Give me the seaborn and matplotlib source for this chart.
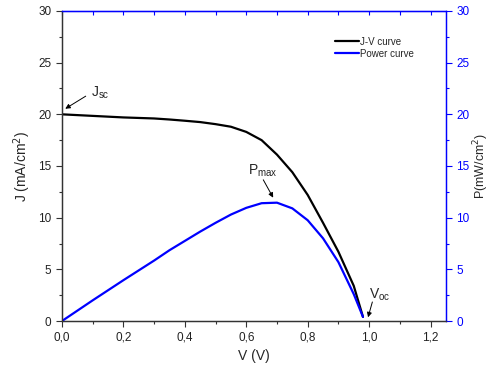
import numpy as np
import pandas as pd
import matplotlib
matplotlib.use("Agg")
import matplotlib.pyplot as plt
from matplotlib.ticker import MultipleLocator, FuncFormatter
import seaborn as sns

# values
voltage = [0.0, 0.1, 0.2, 0.3, 0.35, 0.4, 0.45, 0.5, 0.55, 0.6, 0.65, 0.7, 0.75, 0.8, 0.85, 0.9, 0.95, 0.98]
current = [20.0, 19.85, 19.7, 19.6, 19.5, 19.38, 19.25, 19.05, 18.8, 18.3, 17.5, 16.1, 14.4, 12.2, 9.5, 6.7, 3.4, 0.4]
power = [0.0, 2.0, 3.95, 5.85, 6.85, 7.75, 8.65, 9.5, 10.3, 10.95, 11.4, 11.45, 10.9, 9.75, 8.0, 5.7, 2.6, 0.4]

sns.set_style("ticks")
plt.rcParams['font.family'] = ['Liberation Sans', 'DejaVu Sans']

df = pd.DataFrame({'V': voltage, 'J': current, 'P': power})

fig, ax = plt.subplots(figsize=(4.9, 3.74), dpi=100)
fig.subplots_adjust(left=0.1265, right=0.910, bottom=0.1417, top=0.9706)
ax2 = ax.twinx()

sns.lineplot(data=df, x='V', y='J', ax=ax, color='black', lw=1.6, legend=False)
sns.lineplot(data=df, x='V', y='P', ax=ax2, color='#0000ff', lw=1.6, legend=False)

comma = FuncFormatter(lambda v, p: f"{v:.1f}".replace('.', ','))

ax.set_xlim(0, 1.25)
ax.set_ylim(0, 30)
ax2.set_ylim(0, 30)
ax.xaxis.set_major_locator(MultipleLocator(0.2))
ax.xaxis.set_minor_locator(MultipleLocator(0.1))
ax.xaxis.set_major_formatter(comma)
ax.yaxis.set_major_locator(MultipleLocator(5))
ax.yaxis.set_minor_locator(MultipleLocator(2.5))
ax2.yaxis.set_major_locator(MultipleLocator(5))
ax2.yaxis.set_minor_locator(MultipleLocator(2.5))

gray = '#333333'
blue = '#0000ff'
ax.tick_params(axis='both', which='major', direction='out', length=4, width=0.8,
               colors=gray, labelsize=8.5, labelcolor='#222222')
ax.tick_params(axis='both', which='minor', direction='out', length=2.5, width=0.8, colors=gray)
ax2.tick_params(axis='y', which='major', direction='out', length=4, width=0.8,
                colors=blue, labelsize=8.5)
ax2.tick_params(axis='y', which='minor', direction='out', length=2.5, width=0.8, colors=blue)

top = ax.secondary_xaxis('top')
top.xaxis.set_major_locator(MultipleLocator(0.1))
top.tick_params(direction='in', length=3, width=0.8, colors=blue, labeltop=False)
top.spines['top'].set_color(blue)

for a in (ax, ax2):
    a.spines['left'].set_color(gray)
    a.spines['bottom'].set_color(gray)
    a.spines['right'].set_color(blue)
    a.spines['top'].set_color(blue)
    for s in a.spines.values():
        s.set_visible(True)
        s.set_linewidth(0.9)

ax.set_xlabel('V (V)', fontsize=10, labelpad=4)
ax.set_ylabel('J (mA/cm$^2$)', fontsize=10, labelpad=4)
ax2.set_ylabel('P(mW/cm$^2$)', fontsize=9, labelpad=1)

arrow = dict(arrowstyle='-|>', color='black', lw=0.7, mutation_scale=7)
ax.annotate('', xy=(0.003, 20.4), xytext=(0.085, 21.9), arrowprops=arrow)
ax.text(0.095, 21.7, 'J$_{\\mathregular{sc}}$', fontsize=10)
ax.annotate('', xy=(0.692, 11.7), xytext=(0.651, 13.9), arrowprops=arrow)
ax.text(0.605, 14.2, 'P$_{\\mathregular{max}}$', fontsize=10)
ax.annotate('', xy=(0.994, 0.1), xytext=(1.013, 2.1), arrowprops=arrow)
ax.text(1.0, 2.2, 'V$_{\\mathregular{oc}}$', fontsize=10)

handles = ax.get_lines()[:1] + ax2.get_lines()[:1]
ax.legend(handles, ['J-V curve', 'Power curve'], loc='upper left',
          bbox_to_anchor=(0.70, 0.93), frameon=False, fontsize=7,
          handlelength=2.5, handletextpad=0.1, labelspacing=0.2, borderaxespad=0)

fig.savefig('out.png', dpi=100)
